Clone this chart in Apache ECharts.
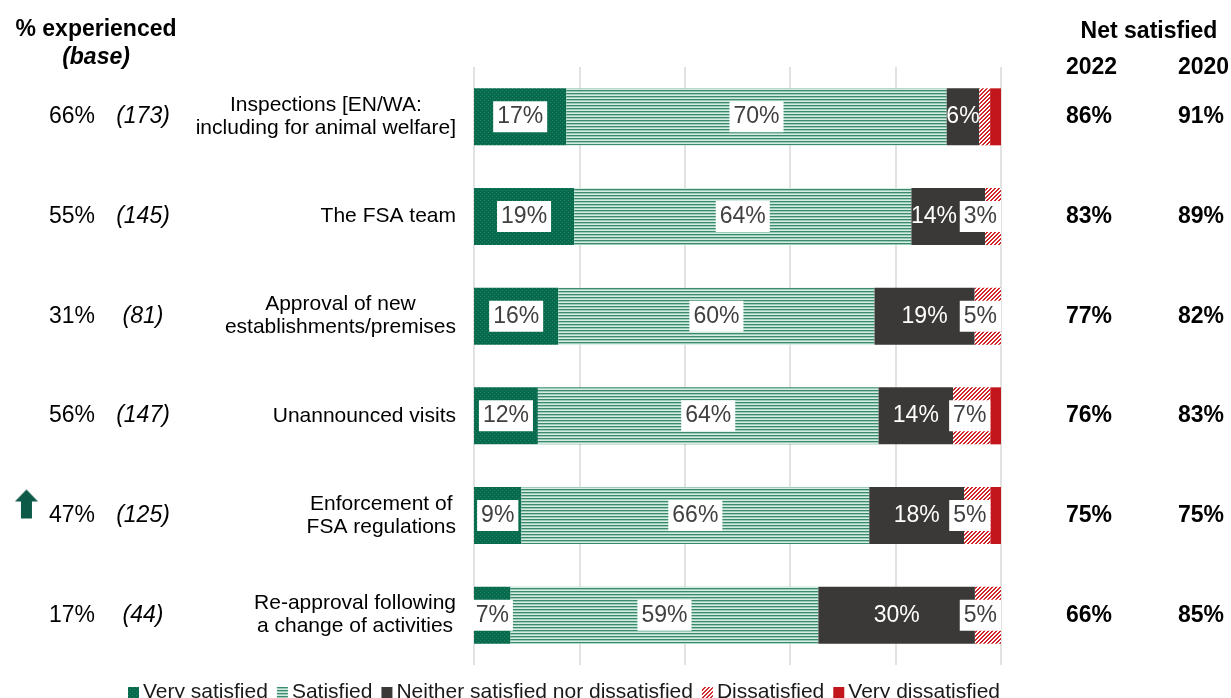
<!DOCTYPE html>
<html>
<head>
<meta charset="utf-8">
<script src="https://cdn.jsdelivr.net/npm/echarts@6/dist/echarts.min.js"></script>
<style>
  html, body { margin: 0; padding: 0; background: #fff; }
  #chart { width: 1231px; height: 698px; }
</style>
</head>
<body>
<div id="chart"></div>
<script>
const categories = [
  'Inspections [EN/WA:\nincluding for animal welfare]',
  'The FSA team',
  'Approval of new\nestablishments/premises',
  'Unannounced visits',
  'Enforcement of\nFSA regulations',
  'Re-approval following\na change of activities'
]
const verySatisfied = [17, 19, 16, 12, 9, 7]
const satisfied = [70, 64, 60, 64, 66, 59]
const neither = [6, 14, 19, 14, 18, 30]
const dissatisfied = [2, 3, 5, 7, 5, 5]
const veryDissatisfied = [2, 0, 0, 2, 2, 0]

const experienced = ['66%', '55%', '31%', '56%', '47%', '17%']
const base = ['(173)', '(145)', '(81)', '(147)', '(125)', '(44)']
const increased = [false, false, false, false, true, false]
const net2022 = ['86%', '83%', '77%', '76%', '75%', '66%']
const net2020 = ['91%', '89%', '82%', '83%', '75%', '85%']

const seriesNames = ['Very satisfied', 'Satisfied', 'Neither satisfied nor dissatisfied', 'Dissatisfied', 'Very dissatisfied']
const rawValues = [verySatisfied, satisfied, neither, dissatisfied, veryDissatisfied]

const FONT = 'Liberation Sans, Arial, sans-serif'

// small canvases used as fill patterns
function pattern(w, h, draw) {
  const c = document.createElement('canvas')
  c.width = w
  c.height = h
  draw(c.getContext('2d'))
  return { image: c, repeat: 'repeat' }
}
const dotGreen = pattern(4, 4, g => {
  g.fillStyle = '#066a4c'; g.fillRect(0, 0, 4, 4)
  g.fillStyle = '#2b8064'; g.fillRect(0, 0, 1, 1); g.fillRect(2, 2, 1, 1)
})
const stripeGreen = pattern(4, 3, g => {
  g.fillStyle = '#3a8b6d'; g.fillRect(0, 0, 4, 1)
  g.fillStyle = '#9ccbb9'; g.fillRect(0, 1, 4, 1)
  g.fillStyle = '#d6ebe2'; g.fillRect(0, 2, 4, 1)
})
const diagRed = pattern(4, 4, g => {
  g.fillStyle = '#ffffff'; g.fillRect(0, 0, 4, 4)
  g.fillStyle = '#d0262a'
  for (let x = 0; x < 4; x++) {
    for (let y = 0; y < 4; y++) {
      if ((x + y) % 4 === 2 || (x + y) % 4 === 3) g.fillRect(x, y, 1, 1)
    }
  }
})
const seriesColors = [dotGreen, stripeGreen, '#3a3937', diagRed, '#c2151c']

const arrowCanvas = document.createElement('canvas')
arrowCanvas.width = 34
arrowCanvas.height = 52
;(function () {
  const g = arrowCanvas.getContext('2d')
  g.fillStyle = '#0e5a48'
  g.beginPath()
  g.moveTo(0, 12); g.lineTo(11.5, 0); g.lineTo(23, 12); g.lineTo(17, 12)
  g.lineTo(17, 29); g.lineTo(6, 29); g.lineTo(6, 12); g.closePath()
  g.fill()
})()

const totals = categories.map((_, i) => rawValues.reduce((s, arr) => s + arr[i], 0))

const boxLabel = {
  color: '#404040',
  fontSize: 23,
  fontFamily: FONT,
  backgroundColor: '#fff',
  padding: [5, 4, 3, 4]
}

// keep labels inside the plot and clear of the next label, like the original
const layouts = {
  2: function (params) {
    const i = params.dataIndex
    if (dissatisfied[i] < 3) return {}
    const r = params.rect
    const l = params.labelRect
    const unit = r.width / neither[i]
    const end = r.x + r.width
    const dw = dissatisfied[i] * unit
    const rest = (dissatisfied[i] + veryDissatisfied[i]) * unit
    const nextLeft = Math.min(end + dw / 2 - 20, end + rest - 40)
    const over = (l.x + l.width) - (nextLeft - 4)
    return over > 0 ? { dx: -over } : {}
  },
  3: function (params) {
    const r = params.rect
    const l = params.labelRect
    const over = (l.x + l.width) - (r.x + r.width)
    return over > 0 ? { dx: -over } : {}
  }
}

const series = seriesNames.map((name, si) => ({
  name: name,
  type: 'bar',
  stack: 'total',
  barWidth: 57,
  itemStyle: { color: seriesColors[si] },
  label: Object.assign({
    show: true,
    position: 'inside',
    formatter: p => rawValues[p.seriesIndex][p.dataIndex] + '%'
  }, si === 2 ? { color: '#fff', fontSize: 23, fontFamily: FONT } : boxLabel),
  labelLayout: layouts[si],
  data: rawValues[si].map((v, i) => ({
    value: v / totals[i] * 100,
    label: { show: v >= 3 }
  }))
}))

const sideAxis = (position, offset, data, align, formatter, rich) => ({
  type: 'category',
  inverse: true,
  position: position,
  offset: offset,
  data: data,
  axisLine: { show: false },
  axisTick: { show: false },
  axisLabel: {
    interval: 0,
    margin: 0,
    align: align,
    formatter: formatter,
    rich: rich
  }
})

const numStyle = { fontFamily: FONT, fontSize: 23, color: '#000' }
const boldNum = Object.assign({}, numStyle, { fontWeight: 'bold' })

const chart = echarts.init(document.getElementById('chart'))
chart.setOption({
  backgroundColor: '#fff',
  animation: false,
  grid: { left: 474, right: 230, top: 67, height: 598 },
  xAxis: {
    type: 'value',
    min: 0,
    max: 100,
    interval: 20,
    axisLabel: { show: false },
    axisLine: { show: false },
    axisTick: { show: false },
    splitLine: { lineStyle: { color: '#d9d9d9', width: 1.5 } }
  },
  yAxis: [
    {
      type: 'category',
      inverse: true,
      data: categories,
      axisLine: { show: false },
      axisTick: { show: false },
      axisLabel: {
        interval: 0,
        margin: 18,
        formatter: v => v.split('\n').map(s => '{c|' + s + '}').join('\n'),
        rich: {
          c: { align: 'center', fontFamily: FONT, fontSize: 21, lineHeight: 23, color: '#000' }
        }
      }
    },
    sideAxis('left', 379, experienced, 'right', (v, i) =>
      (increased[i] ? '{arr|}' : '') + '{p|' + v + '}', {
        p: numStyle,
        arr: { width: 34, height: 52, backgroundColor: { image: arrowCanvas } }
      }),
    sideAxis('left', 331, base, 'center', v => '{b|' + v + '}', {
      b: Object.assign({}, numStyle, { fontStyle: 'italic' })
    }),
    sideAxis('right', 65, net2022, 'left', v => '{n|' + v + '}', { n: boldNum }),
    sideAxis('right', 177, net2020, 'left', v => '{n|' + v + '}', { n: boldNum })
  ],
  legend: {
    data: seriesNames,
    left: 123,
    top: 677,
    icon: 'rect',
    itemWidth: 11,
    itemHeight: 11,
    itemGap: 9,
    textStyle: { fontFamily: FONT, fontSize: 21, color: '#1a1a1a', padding: [0, 0, 0, -1] }
  },
  graphic: [
    { type: 'text', x: 96, y: 30, style: { text: '% experienced', fontFamily: FONT, fontSize: 23, fontWeight: 'bold', fill: '#000', textAlign: 'center', textVerticalAlign: 'middle' } },
    { type: 'text', x: 96, y: 58, style: { text: '(base)', fontFamily: FONT, fontSize: 23, fontWeight: 'bold', fontStyle: 'italic', fill: '#000', textAlign: 'center', textVerticalAlign: 'middle' } },
    { type: 'text', x: 1149, y: 32, style: { text: 'Net satisfied', fontFamily: FONT, fontSize: 23, fontWeight: 'bold', fill: '#000', textAlign: 'center', textVerticalAlign: 'middle' } },
    { type: 'text', x: 1066, y: 68, style: { text: '2022', fontFamily: FONT, fontSize: 23, fontWeight: 'bold', fill: '#000', textAlign: 'left', textVerticalAlign: 'middle' } },
    { type: 'text', x: 1178, y: 68, style: { text: '2020', fontFamily: FONT, fontSize: 23, fontWeight: 'bold', fill: '#000', textAlign: 'left', textVerticalAlign: 'middle' } }
  ],
  series: series
})
</script>
</body>
</html>
